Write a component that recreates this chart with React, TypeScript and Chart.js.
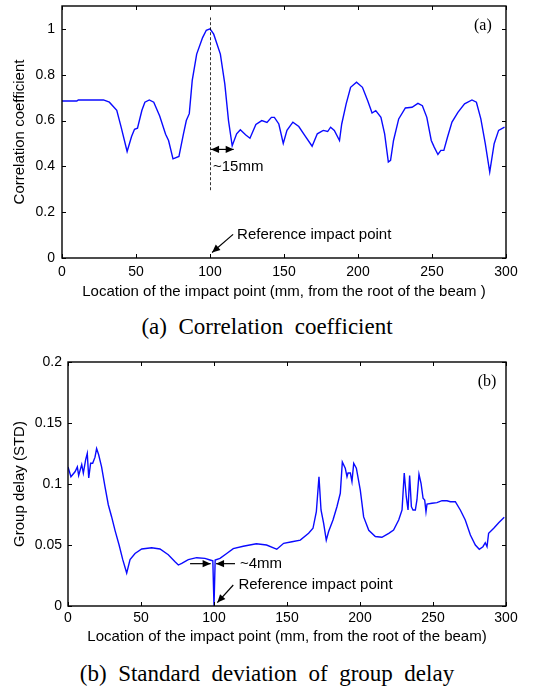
import React, { useEffect, useRef } from 'react';
import { Chart, registerables } from 'chart.js';

Chart.register(...registerables);

// ---------- data (a) correlation coefficient ----------
const corrX = [0, 10, 11, 28, 32, 37, 40, 44, 47, 49, 51, 54, 56, 59, 62, 66, 70, 72, 75, 79, 82, 84, 86, 88, 91, 95, 97.5, 100, 102.5, 107, 110, 112.5, 115, 118, 120.5, 124, 127, 131, 135, 138.5, 141.5, 143.5, 146.5, 149.5, 152, 156, 160, 164, 169, 172.5, 176.5, 179.5, 181.5, 184, 187.5, 189, 192, 195, 199, 203, 206.5, 209.5, 212, 215.5, 218, 220.5, 222, 224, 227.5, 232, 236.5, 240.5, 243.5, 246.5, 249.5, 251.5, 254, 256, 258, 260.5, 263.5, 267.5, 272, 277, 280, 283, 286, 289, 292, 295, 299];
const corrY = [0.685, 0.685, 0.69, 0.69, 0.68, 0.645, 0.57, 0.465, 0.53, 0.562, 0.567, 0.645, 0.68, 0.69, 0.68, 0.62, 0.54, 0.513, 0.433, 0.443, 0.54, 0.6, 0.63, 0.775, 0.89, 0.962, 0.994, 1.0, 0.977, 0.89, 0.76, 0.6, 0.49, 0.542, 0.56, 0.538, 0.523, 0.583, 0.6, 0.592, 0.614, 0.614, 0.585, 0.5, 0.557, 0.593, 0.574, 0.535, 0.488, 0.542, 0.557, 0.552, 0.571, 0.557, 0.513, 0.585, 0.673, 0.745, 0.767, 0.745, 0.687, 0.633, 0.643, 0.614, 0.542, 0.419, 0.426, 0.513, 0.607, 0.655, 0.658, 0.675, 0.665, 0.614, 0.513, 0.484, 0.452, 0.47, 0.47, 0.528, 0.593, 0.636, 0.673, 0.69, 0.68, 0.607, 0.499, 0.375, 0.499, 0.557, 0.571];

// ---------- data (b) standard deviation of group delay ----------
const gdX = [0, 2, 4.8, 6.4, 7.3, 9.4, 10.5, 12.1, 13.2, 14.2, 15.5, 16.9, 18.5, 19.6, 21, 23, 25.3, 27.6, 29.9, 32.2, 35, 37.5, 40.2, 42.5, 45.9, 50.5, 57.3, 63, 68.7, 73.3, 75.6, 77.9, 82.4, 88.1, 93.8, 97.3, 99.2, 100, 100.8, 104.1, 108.7, 113.2, 120, 129, 136, 142, 143, 147.7, 153.4, 159.1, 164.8, 167.8, 170.1, 171.9, 173.3, 175.1, 176.9, 178.5, 181.5, 184.2, 186.5, 187.9, 189.9, 191.1, 191.8, 193.4, 194.5, 195.7, 197.5, 200.2, 202.5, 206, 210.5, 215, 219.7, 223, 226.5, 228.8, 230.3, 231.7, 232.9, 234, 235.2, 236.3, 237.9, 239, 240.4, 241.8, 243.2, 244.3, 245.2, 245.9, 249.3, 252.7, 256.2, 259.6, 261.9, 265.3, 268.7, 272.1, 275.6, 279, 281.7, 284.2, 285.8, 287, 288.1, 291.6, 295, 298.8];
const gdY = [0.114, 0.106, 0.110, 0.114, 0.107, 0.116, 0.109, 0.120, 0.125, 0.105, 0.117, 0.117, 0.122, 0.129, 0.124, 0.114, 0.098, 0.083, 0.073, 0.062, 0.05, 0.038, 0.027, 0.038, 0.043, 0.0467, 0.0478, 0.0467, 0.042, 0.0363, 0.0336, 0.035, 0.038, 0.0396, 0.039, 0.0377, 0.037, 0.0, 0.0377, 0.039, 0.043, 0.047, 0.049, 0.051, 0.05, 0.047, 0.0465, 0.0514, 0.0527, 0.054, 0.0596, 0.0637, 0.0773, 0.106, 0.0787, 0.0678, 0.054, 0.061, 0.0705, 0.0814, 0.0924, 0.118, 0.113, 0.106, 0.109, 0.109, 0.102, 0.117, 0.113, 0.095, 0.073, 0.062, 0.057, 0.0563, 0.0596, 0.0623, 0.0705, 0.0787, 0.109, 0.0896, 0.0787, 0.107, 0.0814, 0.0787, 0.0787, 0.0869, 0.108, 0.1006, 0.0883, 0.0869, 0.0773, 0.0836, 0.0842, 0.0847, 0.0863, 0.0863, 0.0855, 0.0855, 0.0787, 0.0705, 0.0582, 0.05, 0.0465, 0.0486, 0.0519, 0.0486, 0.0596, 0.0637, 0.0683, 0.0727];

// ---------- axes ----------
const xTickStep = 50;
const xRange = [0, 300];
const corrRange = [0, 1.1];
const corrStep = 0.2;
const gdRange = [0, 0.2];
const gdStep = 0.05;

const xTitleA = 'Location of the impact point (mm, from the root of the beam )';
const xTitleB = 'Location of the impact point (mm, from the root of the beam)';
const yTitleA = 'Correlation coefficient';
const yTitleB = 'Group delay (STD)';
const captionA = '(a)  Correlation  coefficient';
const captionB = '(b)  Standard  deviation  of  group  delay';

const SANS = '"Liberation Sans", Arial, Helvetica, sans-serif';
const SERIF = '"Liberation Serif", "Times New Roman", serif';
const LINE_BLUE = '#0a0aff';

// ---------- plugins ----------
const boxPlugin = {
  id: 'matlabBox',
  afterDraw(chart: any) {
    const { ctx, chartArea: a, scales } = chart;
    ctx.save();
    ctx.strokeStyle = '#000';
    ctx.lineWidth = 1;
    const L = 4;
    ctx.beginPath();
    scales.x.ticks.forEach((t: any) => {
      const x = Math.round(scales.x.getPixelForValue(t.value)) + 0.5;
      ctx.moveTo(x, a.bottom); ctx.lineTo(x, a.bottom - L);
      ctx.moveTo(x, a.top); ctx.lineTo(x, a.top + L);
    });
    scales.y.ticks.forEach((t: any) => {
      const y = Math.round(scales.y.getPixelForValue(t.value)) + 0.5;
      ctx.moveTo(a.left, y); ctx.lineTo(a.left + L, y);
      ctx.moveTo(a.right, y); ctx.lineTo(a.right - L, y);
    });
    ctx.stroke();
    ctx.lineWidth = 1.4;
    ctx.strokeRect(a.left, a.top, a.right - a.left, a.bottom - a.top);
    ctx.restore();
  },
};

function arrowHead(ctx: CanvasRenderingContext2D, x1: number, y1: number, x2: number, y2: number) {
  const ang = Math.atan2(y2 - y1, x2 - x1);
  const len = 8, w = 3.6;
  ctx.beginPath();
  ctx.moveTo(x2, y2);
  ctx.lineTo(x2 - len * Math.cos(ang) + w * Math.sin(ang), y2 - len * Math.sin(ang) - w * Math.cos(ang));
  ctx.lineTo(x2 - len * Math.cos(ang) - w * Math.sin(ang), y2 - len * Math.sin(ang) + w * Math.cos(ang));
  ctx.closePath();
  ctx.fill();
}

const annotPlugin = {
  id: 'annot',
  afterDatasetsDraw(chart: any, _args: any, opts: any) {
    const { ctx, scales } = chart;
    const px = (v: number) => scales.x.getPixelForValue(v);
    const py = (v: number) => scales.y.getPixelForValue(v);
    ctx.save();
    ctx.strokeStyle = '#000';
    ctx.fillStyle = '#000';
    (opts.dashed || []).forEach((d: any) => {
      ctx.save();
      ctx.lineWidth = 0.8;
      ctx.setLineDash([3, 2]);
      ctx.beginPath();
      const x = Math.round(px(d.x)) + 0.5;
      ctx.moveTo(x, py(d.y1));
      ctx.lineTo(x, py(d.y2));
      ctx.stroke();
      ctx.restore();
    });
    (opts.arrows || []).forEach((ar: any) => {
      const x1 = px(ar.x1), y1 = py(ar.y1), x2 = px(ar.x2), y2 = py(ar.y2);
      ctx.lineWidth = 1.2;
      ctx.beginPath();
      ctx.moveTo(x1, y1);
      ctx.lineTo(x2, y2);
      ctx.stroke();
      arrowHead(ctx, x1, y1, x2, y2);
      if (ar.both) arrowHead(ctx, x2, y2, x1, y1);
    });
    (opts.texts || []).forEach((t: any) => {
      ctx.font = t.font;
      ctx.textAlign = t.align || 'left';
      ctx.textBaseline = 'middle';
      ctx.fillText(t.text, px(t.x), py(t.y));
    });
    ctx.restore();
  },
};

const fmt = (v: number) => String(Number(Number(v).toFixed(3)));

function makeConfig(p: any) {
  return {
    type: 'line',
    data: {
      datasets: [
        {
          data: p.xs.map((x: number, i: number) => ({ x, y: p.ys[i] })),
          borderColor: LINE_BLUE,
          borderWidth: 1.4,
          pointRadius: 0,
          fill: false,
          tension: 0,
        },
      ],
    },
    plugins: [boxPlugin, annotPlugin],
    options: {
      animation: false,
      responsive: false,
      devicePixelRatio: 1,
      layout: { padding: p.padding },
      plugins: {
        legend: { display: false },
        tooltip: { enabled: false },
        annot: p.annot,
      },
      scales: {
        x: {
          type: 'linear',
          min: xRange[0],
          max: xRange[1],
          grid: { display: false, drawTicks: false },
          border: { display: false },
          ticks: { stepSize: xTickStep, color: '#000', font: { family: SANS, size: 14 }, padding: p.xTickPad, maxRotation: 0, callback: (v: number) => fmt(v) },
          title: { display: true, text: p.xTitle, color: '#000', font: { family: SANS, size: 15 }, padding: { top: 0, bottom: p.xTitlePad } },
          afterFit: (s: any) => { s.height = p.xAxisH; s.paddingLeft = 0; s.paddingRight = 0; },
        },
        y: {
          type: 'linear',
          min: p.yRange[0],
          max: p.yRange[1],
          grid: { display: false, drawTicks: false },
          border: { display: false },
          ticks: { stepSize: p.yStep, includeBounds: false, color: '#000', font: { family: SANS, size: 14 }, padding: p.yTickPad, callback: (v: number) => fmt(v) },
          title: { display: true, text: p.yTitle, color: '#000', font: { family: SANS, size: 15 }, padding: { top: p.yTitlePad, bottom: 0 } },
          afterFit: (s: any) => { s.width = p.yAxisW; s.paddingTop = 0; s.paddingBottom = 0; },
        },
      },
    },
  };
}

const annotA = {
  dashed: [{ x: 100, y1: 0.296, y2: 1.05 }],
  arrows: [
    { x1: 100.7, y1: 0.474, x2: 116, y2: 0.474, both: true },
    { x1: 115.6, y1: 0.103, x2: 101.4, y2: 0.024 },
  ],
  texts: [
    { text: '~15mm', x: 102, y: 0.4, font: `15px ${SANS}` },
    { text: 'Reference impact point', x: 118.3, y: 0.1, font: `15px ${SANS}` },
    { text: '(a)', x: 284.4, y: 1.013, font: `16px ${SERIF}`, align: 'center' },
  ],
};

const annotB = {
  arrows: [
    { x1: 83.6, y1: 0.0347, x2: 97.7, y2: 0.0347 },
    { x1: 114.4, y1: 0.0347, x2: 101.4, y2: 0.0347 },
    { x1: 113.2, y1: 0.0172, x2: 102.3, y2: 0.0028 },
  ],
  texts: [
    { text: '~4mm', x: 117.8, y: 0.0347, font: `15px ${SANS}` },
    { text: 'Reference impact point', x: 116.7, y: 0.0172, font: `15px ${SANS}` },
    { text: '(b)', x: 287, y: 0.184, font: `16px ${SERIF}`, align: 'center' },
  ],
};

function Plot({ cfg, top, height }: { cfg: any; top: number; height: number }) {
  const ref = useRef<HTMLCanvasElement | null>(null);
  useEffect(() => {
    const chart = new Chart(ref.current as HTMLCanvasElement, cfg as any);
    return () => chart.destroy();
  }, []);
  return (
    <div style={{ position: 'absolute', left: 0, top, width: 534, height }}>
      <canvas ref={ref} width={534} height={height} style={{ display: 'block', width: 534, height }} />
    </div>
  );
}

export default function App() {
  const hA = 305;
  const hB = 315;
  const cfgA = makeConfig({
    xs: corrX, ys: corrY, yRange: corrRange, yStep: corrStep,
    xTitle: xTitleA, yTitle: yTitleA,
    padding: { top: 6, right: 28, left: 0, bottom: 0 },
    yAxisW: 62, xAxisH: hA - 258,
    xTickPad: 6, yTickPad: 7, xTitlePad: 4, yTitlePad: 11,
    annot: annotA,
  });
  const cfgB = makeConfig({
    xs: gdX, ys: gdY, yRange: gdRange, yStep: gdStep,
    xTitle: xTitleB, yTitle: yTitleB,
    padding: { top: 22, right: 28, left: 0, bottom: 0 },
    yAxisW: 68, xAxisH: hB - (606 - 340),
    xTickPad: 4, yTickPad: 6, xTitlePad: 9, yTitlePad: 11,
    annot: annotB,
  });
  const capStyle: any = { position: 'absolute', left: 0, width: 534, textAlign: 'center', fontFamily: SERIF, fontSize: 23, lineHeight: '28px', whiteSpace: 'pre', color: '#000' };
  return (
    <div style={{ position: 'absolute', left: 0, top: 0, width: 534, height: 690, background: '#fff', overflow: 'hidden' }}>
      <Plot cfg={cfgA} top={0} height={hA} />
      <div style={{ ...capStyle, top: 313 }}>{captionA}</div>
      <Plot cfg={cfgB} top={340} height={hB} />
      <div style={{ ...capStyle, top: 660 }}>{captionB}</div>
    </div>
  );
}
